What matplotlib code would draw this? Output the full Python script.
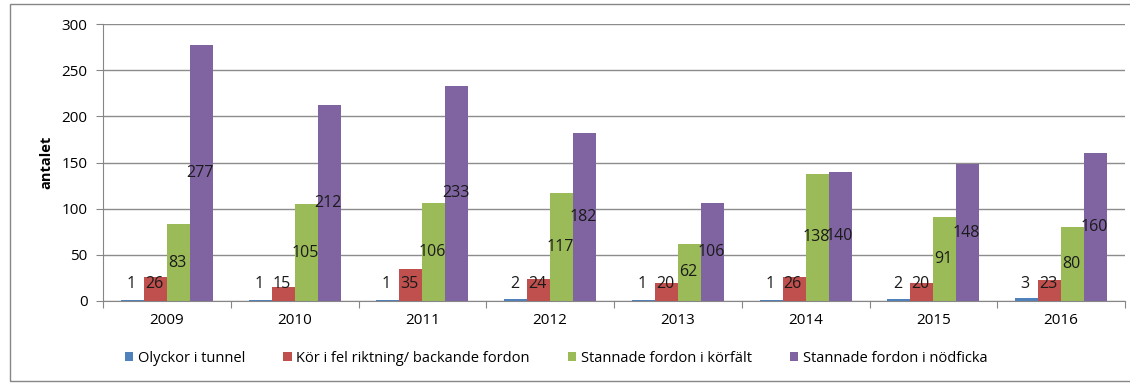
import matplotlib.pyplot as plt
import numpy as np
from matplotlib.patches import Rectangle

plt.rcParams['font.family'] = ['Open Sans', 'DejaVu Sans']

years = ['2009', '2010', '2011', '2012', '2013', '2014', '2015', '2016']
olyckor = [1, 1, 1, 2, 1, 1, 2, 3]
fel_riktning = [26, 15, 35, 24, 20, 26, 20, 23]
korfalt = [83, 105, 106, 117, 62, 138, 91, 80]
nodficka = [277, 212, 233, 182, 106, 140, 148, 160]

series = [
    ('Olyckor i tunnel', olyckor, '#4F81BD'),
    ('Kör i fel riktning/ backande fordon', fel_riktning, '#C0504D'),
    ('Stannade fordon i körfält', korfalt, '#9BBB59'),
    ('Stannade fordon i nödficka', nodficka, '#8064A2'),
]

W, H = 1130, 386
fig = plt.figure(figsize=(W / 100, H / 100), dpi=100)
ax = fig.add_axes([103 / W, 1 - 301 / H, (1125 - 103) / W, (301 - 24) / H])

# ram runt diagrammet
fig.patches.append(Rectangle((10 / W, 1 - 381 / H), 1.2, (381 - 4) / H,
                             transform=fig.transFigure, fill=False,
                             edgecolor='#868686', linewidth=1))

x = np.arange(len(years))
bw = 0.18
for i, (name, vals, col) in enumerate(series):
    pos = x + (i - 1.5) * bw
    ax.bar(pos, vals, width=bw, color=col, label=name, zorder=2)
    for px, v in zip(pos, vals):
        ax.text(px - 0.01, max(v / 2, 18), str(v), ha='center', va='center',
                fontsize=11.5, color='#1a1a1a', zorder=3)

ax.set_xlim(-0.5, len(years) - 0.5)
ax.set_ylim(0, 300)
ax.set_yticks(range(0, 301, 50))
ax.yaxis.grid(True, color='#8c8c8c', linewidth=1, zorder=0)
ax.set_axisbelow(True)

ax.set_xticks(np.arange(len(years) + 1) - 0.5)
ax.set_xticklabels([])
ax.set_xticks(x, minor=True)
ax.set_xticklabels(years, minor=True)
ax.tick_params(axis='x', which='major', length=5, color='#868686', direction='out')
ax.tick_params(axis='x', which='minor', length=0, pad=9, labelsize=11)
ax.tick_params(axis='y', length=5, color='#868686', labelsize=11, pad=6)

for s in ['top', 'right']:
    ax.spines[s].set_visible(False)
for s in ['left', 'bottom']:
    ax.spines[s].set_color('#868686')

ax.set_ylabel('antalet', fontsize=10.5, fontweight='bold', labelpad=6)

fig.legend(loc='center', bbox_to_anchor=(556 / W, 1 - 358 / H), ncol=4,
           frameon=False, fontsize=10.5, handlelength=0.6, handleheight=0.6,
           handletextpad=0.3, columnspacing=2.6)

fig.savefig('out.png', dpi=100)
